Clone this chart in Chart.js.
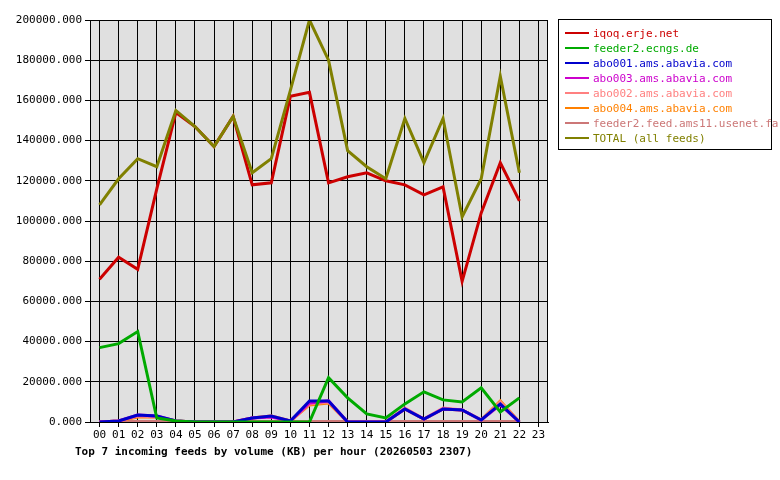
<!DOCTYPE html>
<html><head><meta charset="utf-8">
<script src="https://cdn.jsdelivr.net/npm/chart.js@4"></script>
<style>
body{margin:0;background:#fff;font-family:"DejaVu Sans Mono",monospace;}
#wrap{position:relative;width:780px;height:480px;}
#legend{position:absolute;left:558px;top:19px;width:214px;height:131px;border:1px solid #000;box-sizing:border-box;font-size:11px;padding:6px 0 0 6px;}
#legend div{height:15px;line-height:15px;white-space:nowrap;}
#legend span.sw{display:inline-block;width:24px;height:2px;vertical-align:middle;margin-right:4px;position:relative;top:-1px;}
#title{position:absolute;left:75px;top:445px;font-size:11px;font-weight:bold;}
</style></head><body>
<div id="wrap"><canvas id="c" width="780" height="480"></canvas>
<div id="legend"></div>
<div id="title">Top 7 incoming feeds by volume (KB) per hour (20260503 2307)</div></div>
<script>
const hours=["00","01","02","03","04","05","06","07","08","09","10","11","12","13","14","15","16","17","18","19","20","21","22","23"];
const iqoq=[71000,82000,76000,116000,154000,147000,137000,152000,118000,119000,162000,164000,119000,122000,124000,120000,118000,113000,117000,70000,104000,129000,110000];
const ecngs=[37000,39000,45000,2000,500,0,0,0,0,0,0,0,22000,12000,4000,2000,9000,15000,11000,10000,17000,5000,12000];
const abo001=[0,500,3500,3000,500,0,0,0,2000,3000,500,10500,10500,0,0,0,6500,1500,6500,6000,1000,9000,0];
const abo003=[0,500,3500,3000,500,0,0,0,2000,2500,500,9500,10500,0,0,0,6500,1500,6500,6000,1000,8500,0];
const abo002=[0,500,3000,2500,500,0,0,0,2000,3000,500,9000,10000,0,0,0,7000,1500,7000,6000,1000,10000,0];
const abo004=[0,500,2500,2500,500,0,0,0,2000,3000,500,8500,9500,0,0,0,6500,1500,6500,6000,1000,10500,0];
const farm=[300,300,300,300,300,300,300,300,300,300,300,300,300,300,300,300,300,300,300,300,300,300,300];
const total=[108000,121000,131000,127000,155000,147000,137000,152000,124000,131000,165000,200000,180000,135000,127000,121000,151000,129000,151000,102000,121000,172000,124000];
const series=[
 ["iqoq.erje.net",iqoq,"#cc0000"],
 ["feeder2.ecngs.de",ecngs,"#00aa00"],
 ["abo001.ams.abavia.com",abo001,"#0000cc"],
 ["abo003.ams.abavia.com",abo003,"#cc00cc"],
 ["abo002.ams.abavia.com",abo002,"#ff8080"],
 ["abo004.ams.abavia.com",abo004,"#ff8000"],
 ["feeder2.feed.ams11.usenet.farm",farm,"#cc7777"],
 ["TOTAL (all feeds)",total,"#808000"]];
const lg=document.getElementById('legend');
series.forEach(s=>{const d=document.createElement('div');d.style.color=s[2];d.innerHTML='<span class="sw" style="background:'+s[2]+'"></span>'+s[0];lg.appendChild(d);});
const drawOrder=[6,5,4,3,2,1,0,7];
const bg={id:'bg',beforeDraw(c){const a=c.chartArea,x=c.ctx;x.save();x.fillStyle='#e0e0e0';x.fillRect(a.left,a.top,a.right-a.left,a.bottom-a.top);x.restore();},
 afterDraw(c){const a=c.chartArea,x=c.ctx;x.save();x.strokeStyle='#000';x.lineWidth=1;x.strokeRect(a.left+0.5,a.top+0.5,a.right-a.left-1,a.bottom-a.top);x.restore();}};
new Chart(document.getElementById('c'),{type:'line',
 data:{labels:hours,datasets:series.map((s,i)=>({label:s[0],data:s[1],borderColor:s[2],backgroundColor:s[2],borderWidth:3,pointRadius:0,tension:0,order:drawOrder.indexOf(i)===-1?0:-drawOrder.indexOf(i)}))},
 options:{responsive:false,animation:false,
  layout:{padding:{left:0,right:232,top:20,bottom:33}},
  plugins:{legend:{display:false},tooltip:{enabled:false}},
  scales:{
   x:{offset:true,afterFit(s){s.height=25;},grid:{offset:false,color:'#000',lineWidth:1,tickLength:5,drawOnChartArea:true},border:{color:'#000'},
      ticks:{color:'#000',font:{family:'DejaVu Sans Mono',size:11},maxRotation:0,autoSkip:false,padding:2}},
   y:{min:0,max:200000,afterFit(s){s.width=90;},grid:{color:'#000',lineWidth:1,tickLength:5},border:{color:'#000'},
      ticks:{stepSize:20000,color:'#000',font:{family:'DejaVu Sans Mono',size:11},padding:3,callback:v=>v.toFixed(3)}}}},
 plugins:[bg]});
</script></body></html>
